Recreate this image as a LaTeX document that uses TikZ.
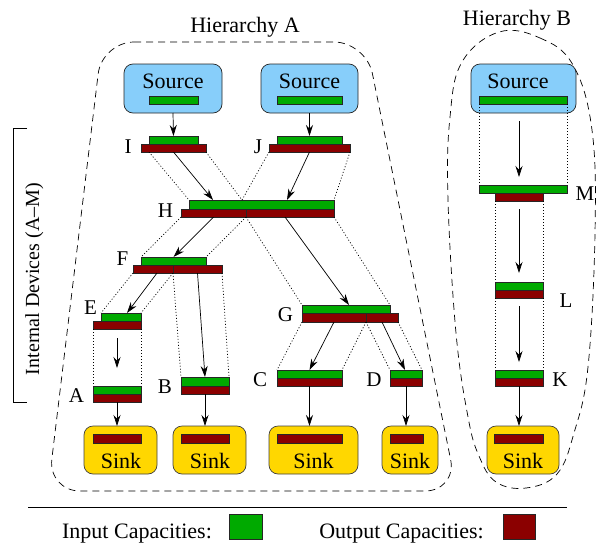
\documentclass[tikz,border=0pt]{standalone}
\usepackage{fontspec}
\setmainfont{Liberation Serif}
\usetikzlibrary{arrows.meta,calc}
\definecolor{capgreen}{RGB}{0,170,0}
\definecolor{capred}{RGB}{139,0,0}
\definecolor{srcblue}{RGB}{135,206,250}
\definecolor{sinkyellow}{RGB}{255,215,0}
\newcommand{\capbar}[6]{\node[#1, minimum width={(#4)-(#2)}, minimum height={(#5)-(#3)}, anchor=north west] (#6) at (#2,#3) {};}
\begin{document}
\begin{tikzpicture}[x=1pt,y=-1pt, font=\rmfamily\fontsize{22}{26}\selectfont,
  gbar/.style={rectangle, draw=black!85, fill=capgreen, line width=0.6pt, inner sep=0pt, outer sep=0pt},
  rbar/.style={rectangle, draw=black!85, fill=capred, line width=0.6pt, inner sep=0pt, outer sep=0pt},
  srcbox/.style={rectangle, draw=black!85, fill=srcblue, rounded corners=9pt, line width=0.7pt, inner sep=0pt, outer sep=0pt},
  sinkbox/.style={rectangle, draw=black!75, fill=sinkyellow, rounded corners=9pt, line width=0.7pt, inner sep=0pt, outer sep=0pt},
  flow/.style={-{Stealth[length=11pt,width=7pt]}, line width=0.7pt},
  map/.style={line width=0.7pt, dash pattern=on 1pt off 2pt},
  hier/.style={line width=0.7pt, dash pattern=on 7pt off 5pt},
  lbl/.style={anchor=base, inner sep=0pt, font=\rmfamily\fontsize{21}{25}\selectfont},
  txt/.style={anchor=base, inner sep=0pt}]
\useasboundingbox (0,0) rectangle (597,544);

% hierarchy outlines
\draw[hier, rounded corners=32pt] (102,42) -- (366,42) -- (457,491) -- (48,491) -- cycle;
\draw[hier] plot[smooth cycle, tension=0.65] coordinates {(499,32) (540,38) (573,65) (592,130) (595,233) (588,367) (574,433) (557,474) (526,488) (496,482) (479,456) (468,417) (456,333) (448,200) (450,117) (462,62)};
\node[txt] (hA) at (245,32) {Hierarchy A};
\node[txt] (hB) at (517,25) {Hierarchy B};

% bracket
\draw[line width=0.8pt] (27,128) -- (13,128) -- (13,402) -- (27,402);
\node[txt, rotate=90, font=\rmfamily\fontsize{20}{24}\selectfont] (intl) at (39,279) {Internal Devices (A–M)};

% sources
\capbar{srcbox}{124}{64}{222}{113}{S1}
\capbar{srcbox}{261}{64}{358}{113}{S2}
\capbar{srcbox}{471}{64}{576}{113}{S3}
\node[txt] (S1t) at (173,88) {Source};
\node[txt] (S2t) at (309.5,88) {Source};
\node[txt] (S3t) at (518,88) {Source};
\capbar{gbar}{149}{96}{198}{104}{S1g}
\capbar{gbar}{277}{96}{342}{104}{S2g}
\capbar{gbar}{479}{96}{567}{104}{S3g}

% sinks
\capbar{sinkbox}{84}{426}{157}{474}{K1}
\capbar{sinkbox}{173}{426}{246}{474}{K2}
\capbar{sinkbox}{269}{426}{358}{474}{K3}
\capbar{sinkbox}{382}{426}{438}{474}{K4}
\capbar{sinkbox}{487}{426}{559}{474}{K5}
\capbar{rbar}{93}{434}{141}{443}{K1r}
\capbar{rbar}{181}{434}{229}{443}{K2r}
\capbar{rbar}{277}{434}{342}{443}{K3r}
\capbar{rbar}{390}{434}{423}{443}{K4r}
\capbar{rbar}{494}{434}{543}{443}{K5r}
\node[txt] (K1t) at (121,468) {Sink};
\node[txt] (K2t) at (210,468) {Sink};
\node[txt] (K3t) at (313.5,468) {Sink};
\node[txt] (K4t) at (410,468) {Sink};
\node[txt] (K5t) at (523,468) {Sink};

% devices
\capbar{gbar}{149}{136}{198}{144}{Ig}
\capbar{rbar}{141}{144}{206}{152}{Ir}
\capbar{gbar}{277}{136}{342}{144}{Jg}
\capbar{rbar}{269}{144}{350}{152}{Jr}
\capbar{gbar}{189}{200}{334}{209}{Hg}
\capbar{rbar}{181}{209}{246}{217}{Hr1}
\capbar{rbar}{246}{209}{334}{217}{Hr2}
\capbar{gbar}{141}{257}{206}{265}{Fg}
\capbar{rbar}{133}{265}{173}{273}{Fr1}
\capbar{rbar}{173}{265}{222}{273}{Fr2}
\capbar{gbar}{101}{313}{141}{321}{Eg}
\capbar{rbar}{93}{321}{141}{329}{Er}
\capbar{gbar}{93}{386}{141}{394}{Ag}
\capbar{rbar}{93}{394}{141}{402}{Ar}
\capbar{gbar}{181}{377}{229}{386}{Bg}
\capbar{rbar}{181}{386}{229}{394}{Br}
\capbar{gbar}{302}{305}{390}{313}{Gg}
\capbar{rbar}{302}{313}{366}{322}{Gr1}
\capbar{rbar}{366}{313}{398}{322}{Gr2}
\capbar{gbar}{277}{370}{342}{378}{Cg}
\capbar{rbar}{277}{378}{342}{386}{Cr}
\capbar{gbar}{390}{370}{422}{378}{Dg}
\capbar{rbar}{390}{378}{422}{386}{Dr}
\capbar{gbar}{479}{185}{567}{193}{Mg}
\capbar{rbar}{495}{193}{543}{201}{Mr}
\capbar{gbar}{495}{282}{543}{290}{Lg}
\capbar{rbar}{495}{290}{543}{298}{Lr}
\capbar{gbar}{495}{370}{543}{378}{Kg}
\capbar{rbar}{495}{378}{543}{386}{Kr}

% capacity mappings (dotted)
\coordinate (Hmid) at ($(Hg.north west)+(53,0)$);
\draw[map] (Ig.west |- Ir.south) -- (Hg.north west);
\draw[map] (Ir.south east) -- (Hmid);
\draw[map] (Jr.south west) -- (Hmid);
\draw[map] (Jr.south east) -- (Hg.north east);
\draw[map] (Hr1.south west) -- (Fg.north west);
\draw[map] (Hr1.south east) -- (Fg.north east);
\draw[map] (Hr2.south west) -- (Gg.north west);
\draw[map] (Hr2.south east) -- (Gg.north east);
\draw[map] (Fr1.south west) -- (Eg.north west);
\draw[map] (Fr1.south east) -- (Eg.north east);
\draw[map] (Fr2.south west) -- (Bg.north west);
\draw[map] (Fr2.south east) -- (Bg.north east);
\draw[map] (Er.south west) -- (Ag.north west);
\draw[map] (Er.south east) -- (Ag.north east);
\draw[map] (Gr1.south west) -- (Cg.north west);
\draw[map] (Gr1.south east) -- (Cg.north east);
\draw[map] (Gr2.south west) -- (Dg.north west);
\draw[map] (Gr2.south east) -- (Dg.north east);
\draw[map] (S3g.south west) -- (Mg.north west);
\draw[map] (S3g.south east) -- (Mg.north east);
\draw[map] (Mr.south west) -- (Lg.north west);
\draw[map] (Mr.south east) -- (Lg.north east);
\draw[map] (Lr.south west) -- (Kg.north west);
\draw[map] (Lr.south east) -- (Kg.north east);

% flows
\draw[flow] (S1.south) -- (Ig.north);
\draw[flow] (S2.south) -- (Jg.north);
\draw[flow] (Ir.south) -- ($(Hg.north west)+(24,0)$);
\draw[flow] (Jr.south) -- ($(Hg.north west)+(98,0)$);
\draw[flow] (Hr1.south) -- (Fg.north);
\draw[flow] ($(Hr2.south)+(-5,0)$) -- ($(Gg.north)+(3,0)$);
\draw[flow] ($(Fr1.south)+(4,0)$) -- ($(Eg.north)+(6,0)$);
\draw[flow] (Fr2.south) -- (Bg.north);
\draw[flow, shorten <=9pt, shorten >=18pt] (Er.south) -- (Ag.north);
\draw[flow] (Ar.south) -- (Ar.south |- K1.north);
\draw[flow] (Br.south) -- (Br.south |- K2.north);
\draw[flow] (Gr1.south) -- (Cg.north);
\draw[flow] (Gr2.south) -- ($(Dg.north)+(-1,0)$);
\draw[flow] (Cr.south) -- (Cr.south |- K3.north);
\draw[flow] (Dr.south) -- (Dr.south |- K4.north);
\draw[flow, shorten <=8pt, shorten >=8pt] (S3.south -| Kg.north) -- (Mg.north -| Kg.north);
\draw[flow, shorten <=8pt, shorten >=9pt] (Mr.south) -- (Lg.north);
\draw[flow, shorten <=8pt, shorten >=8pt] (Lr.south) -- (Kg.north);
\draw[flow] (Kr.south) -- (Kr.south |- K5.north);

% device labels
\node[lbl] (lI) at (128,153) {I};
\node[lbl] (lJ) at (258,153) {J};
\node[lbl] (lH) at (165.5,217) {H};
\node[lbl] (lF) at (122.5,265) {F};
\node[lbl] (lE) at (90.5,314) {E};
\node[lbl] (lA) at (76.5,402) {A};
\node[lbl] (lB) at (165,393) {B};
\node[lbl] (lC) at (260,386) {C};
\node[lbl] (lG) at (285.5,321) {G};
\node[lbl] (lD) at (374,386) {D};
\node[lbl] (lM) at (585,200) {M};
\node[lbl] (lL) at (566,307) {L};
\node[lbl] (lK) at (560,386) {K};

% legend
\coordinate (sepL) at (28,507);
\coordinate (sepR) at (567,507);
\draw[line width=0.8pt] (sepL) -- (sepR);
\node[txt] (inLeg) at (137,538) {Input Capacities:};
\node[txt] (outLeg) at (401.5,538) {Output Capacities:};
\capbar{gbar}{229}{514}{262}{539}{inSq}
\capbar{rbar}{503}{514}{535}{539}{outSq}
\end{tikzpicture}
\end{document}
